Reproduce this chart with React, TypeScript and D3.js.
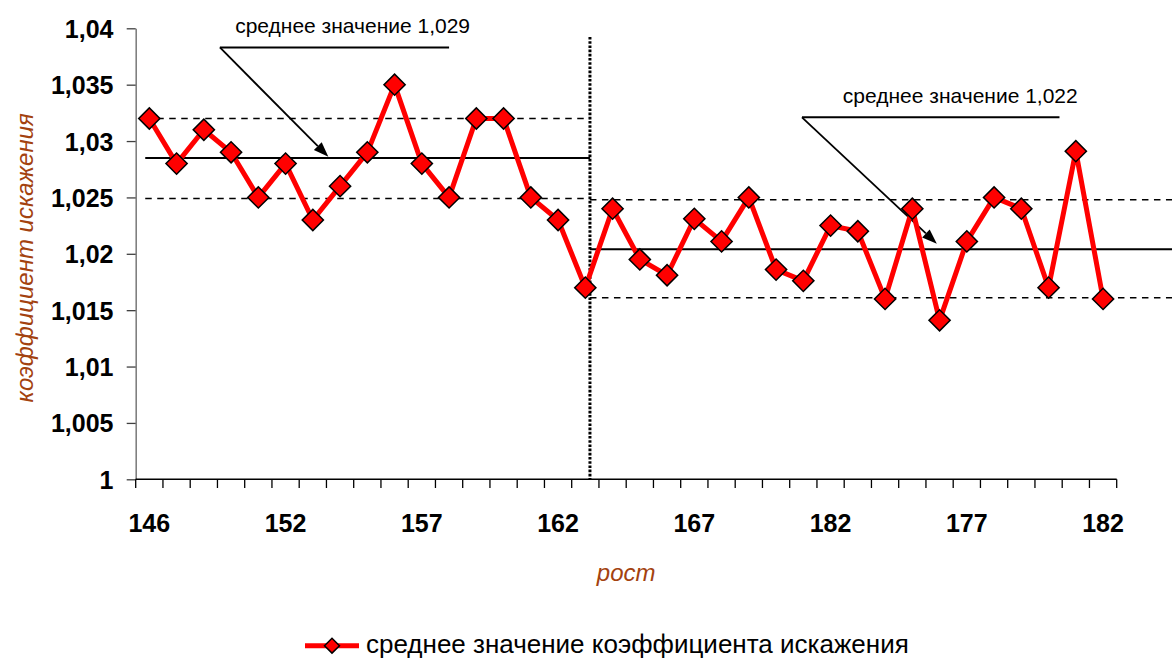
import React, { useEffect, useRef } from "react";
import * as d3 from "d3";

// ---- data ----
const pointIndex = d3.range(36);
const values = [
  1.032, 1.028, 1.031, 1.029, 1.025, 1.028, 1.023, 1.026, 1.029, 1.035,
  1.028, 1.025, 1.032, 1.032, 1.025, 1.023, 1.017, 1.024, 1.0195, 1.0181,
  1.0231, 1.0211, 1.025, 1.0186, 1.0176, 1.0225, 1.022, 1.016, 1.024, 1.0141,
  1.0211, 1.025, 1.024, 1.017, 1.0291, 1.016,
];
const xTickLabels = ["146", "152", "157", "162", "167", "182", "177", "182"];
const xLabelEvery = 5;
const yTickValues = [1, 1.005, 1.01, 1.015, 1.02, 1.025, 1.03, 1.035, 1.04];
const yTickLabels = ["1", "1,005", "1,01", "1,015", "1,02", "1,025", "1,03", "1,035", "1,04"];

// reference lines: [mean, upper, lower]
const leftLevels = [1.0285, 1.032, 1.0249];
const rightLevels = [1.0204, 1.0248, 1.0161];
const splitIndex = 16.17;

const seriesName = "среднее значение коэффициента искажения";
const xTitle = "рост";
const yTitle = "коэффициент искажения";
const annotations = [
  { text: "среднее значение 1,029", from: [2.59, 1.0383], lineEnd: 11.0, textAt: 3.15, to: [6.57, 1.0286] },
  { text: "среднее значение 1,022", from: [23.95, 1.0321], lineEnd: 33.4, textAt: 25.45, to: [28.9, 1.0209] },
];

export default function App() {
  const ref = useRef<SVGSVGElement>(null);

  useEffect(() => {
    document.body.style.margin = "0";
    const svg = d3.select(ref.current);
    svg.selectAll("*").remove();

    const W = 1172;
    const left = 135.7, right = 1116.7, top = 28.3, bottom = 479.3;
    const font = "'Liberation Sans', Arial, sans-serif";
    const brown = "#A3420F";

    const x = d3.scaleBand<number>().domain(pointIndex).range([left, right]).padding(0);
    const step = x.step();
    const cx = (i: number) => left + (i + 0.5) * step; // fractional index position
    const y = d3.scaleLinear().domain([1, 1.04]).range([bottom, top]);

    // Y axis
    const yAxis = d3
      .axisLeft(y)
      .tickValues(yTickValues)
      .tickSize(9)
      .tickSizeOuter(0)
      .tickPadding(13.2)
      .tickFormat((d, i) => yTickLabels[i]);
    const gy = svg.append("g").attr("transform", `translate(${left},0)`).call(yAxis);
    gy.select(".domain").attr("stroke", "#808080").attr("stroke-width", 1.6);
    gy.selectAll(".tick line").attr("stroke", "#404040").attr("stroke-width", 1.3);
    gy.selectAll(".tick text")
      .attr("font-family", font)
      .attr("font-size", 25)
      .attr("font-weight", "bold")
      .attr("fill", "#000")
      .attr("dy", "0.36em");

    // X axis
    const gx = svg.append("g");
    gx.append("line")
      .attr("x1", left).attr("x2", right)
      .attr("y1", bottom).attr("y2", bottom)
      .attr("stroke", "#000").attr("stroke-width", 1.6);
    gx.selectAll("line.tk")
      .data(d3.range(pointIndex.length + 1))
      .join("line")
      .attr("class", "tk")
      .attr("x1", (i) => left + i * step)
      .attr("x2", (i) => left + i * step)
      .attr("y1", bottom)
      .attr("y2", bottom + 8.7)
      .attr("stroke", "#000")
      .attr("stroke-width", 1.3);
    gx.selectAll("text")
      .data(xTickLabels)
      .join("text")
      .attr("x", (_, k) => (x(k * xLabelEvery) as number) + x.bandwidth() / 2)
      .attr("y", 531.6)
      .attr("text-anchor", "middle")
      .attr("font-family", font)
      .attr("font-size", 25)
      .attr("font-weight", "bold")
      .text((d) => d);

    // Axis titles
    svg.append("text")
      .attr("x", (left + right) / 2)
      .attr("y", 581)
      .attr("text-anchor", "middle")
      .attr("font-family", font)
      .attr("font-size", 24)
      .attr("font-style", "italic")
      .attr("fill", brown)
      .text(xTitle);
    svg.append("text")
      .attr("transform", `translate(33,${(top + bottom) / 2 + 4}) rotate(-90)`)
      .attr("text-anchor", "middle")
      .attr("font-family", font)
      .attr("font-size", 24)
      .attr("font-style", "italic")
      .attr("fill", brown)
      .text(yTitle);

    // reference lines
    const refG = svg.append("g");
    const drawLevels = (lv: number[], x1: number, x2: number) => {
      lv.forEach((v, k) => {
        refG.append("line")
          .attr("x1", x1).attr("x2", x2)
          .attr("y1", y(v)).attr("y2", y(v))
          .attr("stroke", "#000")
          .attr("stroke-width", k === 0 ? 2 : 1.6)
          .attr("stroke-dasharray", k === 0 ? null : "6.5,5.5");
      });
    };
    drawLevels(leftLevels, cx(-0.15), cx(splitIndex));
    drawLevels(rightLevels, cx(splitIndex), W);

    // vertical dotted split line
    refG.append("line")
      .attr("x1", cx(splitIndex)).attr("x2", cx(splitIndex))
      .attr("y1", 37).attr("y2", bottom)
      .attr("stroke", "#000")
      .attr("stroke-width", 3)
      .attr("stroke-dasharray", "2.6,1.6");

    // annotations
    annotations.forEach((a) => {
      const sx = cx(a.from[0]), sy = y(a.from[1]);
      const tx = cx(a.to[0]), ty = y(a.to[1]);
      svg.append("text")
        .attr("x", cx(a.textAt))
        .attr("y", sy - 14.5)
        .attr("font-family", font)
        .attr("font-size", 21)
        .text(a.text);
      svg.append("line")
        .attr("x1", sx).attr("x2", cx(a.lineEnd))
        .attr("y1", sy).attr("y2", sy)
        .attr("stroke", "#000").attr("stroke-width", 2);
      const ang = Math.atan2(ty - sy, tx - sx);
      const L = 15, Wd = 5.5;
      const bx = tx - L * Math.cos(ang), by = ty - L * Math.sin(ang);
      svg.append("line")
        .attr("x1", sx).attr("y1", sy)
        .attr("x2", bx).attr("y2", by)
        .attr("stroke", "#000").attr("stroke-width", 1.8);
      const px = -Math.sin(ang), py = Math.cos(ang);
      svg.append("path")
        .attr("d", `M${tx},${ty}L${bx + px * Wd},${by + py * Wd}L${bx - px * Wd},${by - py * Wd}Z`)
        .attr("fill", "#000");
    });

    // series line
    const line = d3.line<number>()
      .x((d, i) => (x(i) as number) + x.bandwidth() / 2)
      .y((d) => y(d));
    svg.append("path")
      .datum(values)
      .attr("d", line)
      .attr("fill", "none")
      .attr("stroke", "#FF0000")
      .attr("stroke-width", 5)
      .attr("stroke-linejoin", "round");

    const diamond = d3.symbol().type(d3.symbolSquare).size(225);
    svg.append("g")
      .selectAll("path")
      .data(values)
      .join("path")
      .attr("d", diamond as any)
      .attr("transform", (d, i) => `translate(${(x(i) as number) + x.bandwidth() / 2},${y(d)}) rotate(45)`)
      .attr("fill", "#FF0000")
      .attr("stroke", "#000")
      .attr("stroke-width", 1.5);

    // legend
    const lg = svg.append("g");
    lg.append("line")
      .attr("x1", 305).attr("x2", 359)
      .attr("y1", 645.7).attr("y2", 645.7)
      .attr("stroke", "#FF0000").attr("stroke-width", 5);
    lg.append("path")
      .attr("d", d3.symbol().type(d3.symbolSquare).size(112)() as string)
      .attr("transform", "translate(332,645.7) rotate(45)")
      .attr("fill", "#FF0000")
      .attr("stroke", "#000")
      .attr("stroke-width", 1.5);
    lg.append("text")
      .attr("x", 366)
      .attr("y", 653)
      .attr("font-family", font)
      .attr("font-size", 26)
      .text(seriesName);
  }, []);

  return <svg ref={ref} width={1172} height={659} style={{ display: "block" }} />;
}
